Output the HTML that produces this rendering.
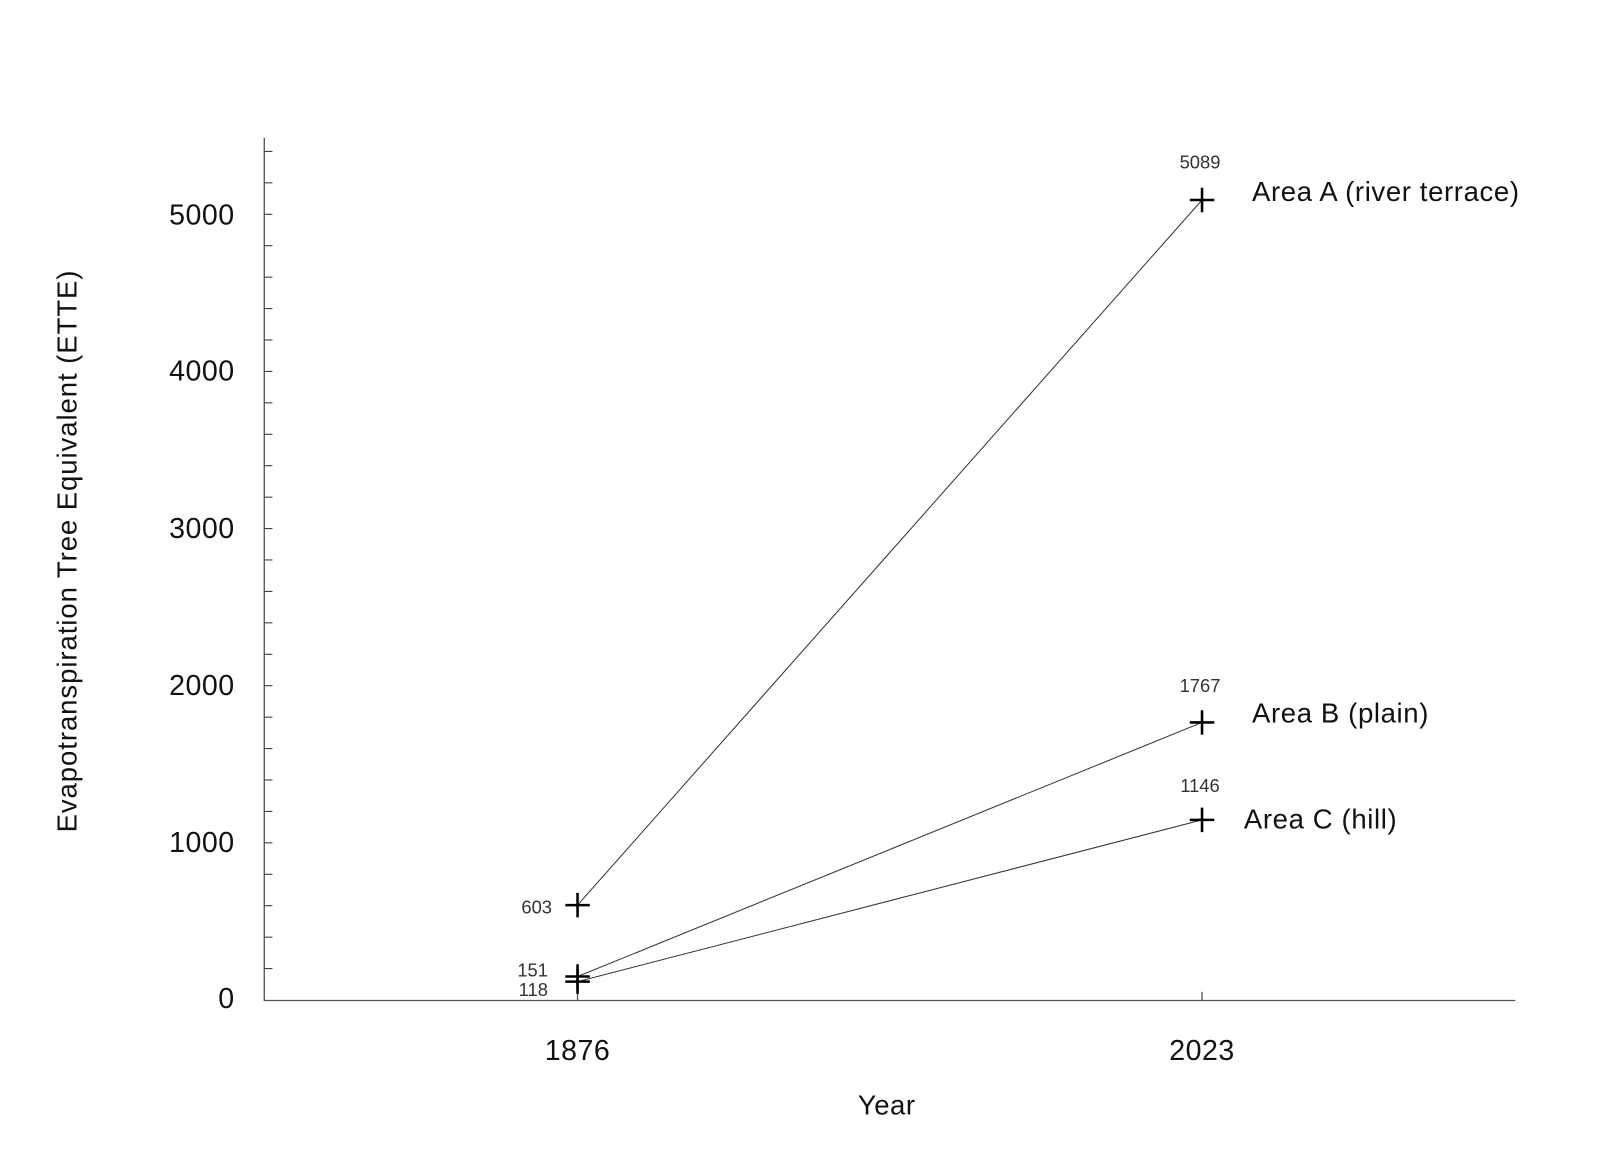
<!DOCTYPE html><html><head><style>body{margin:0;background:#fff}</style></head><body>
<svg width="1600" height="1144" xmlns="http://www.w3.org/2000/svg" font-family="Liberation Sans, sans-serif">
<rect width="1600" height="1144" fill="#fff"/>
<g transform="scale(1.0204)">
<g stroke="#555" stroke-width="1.3">
<line x1="259" y1="135" x2="259" y2="981"/>
<line x1="259" y1="980.5" x2="1485" y2="980.5"/>
<line x1="566" y1="972" x2="566" y2="980"/>
<line x1="1178" y1="972" x2="1178" y2="980"/>
</g>
<g font-size="28" fill="#111" text-anchor="end" letter-spacing="0.5">
<text x="230" y="988">0</text><text x="230" y="835">1000</text><text x="230" y="681">2000</text><text x="230" y="527">3000</text><text x="230" y="373">4000</text><text x="230" y="220">5000</text>
</g>
<g font-size="28" fill="#111" text-anchor="middle" letter-spacing="0.5">
<text x="566" y="1039">1876</text><text x="1178" y="1039">2023</text>
<text x="869" y="1092" font-size="27">Year</text>
<text transform="translate(75,540) rotate(-90)" font-size="27" letter-spacing="0.9">Evapotranspiration Tree Equivalent (ETTE)</text>
</g>
<g stroke="#333" stroke-width="1">
<line x1="566" y1="887" x2="1178" y2="196"/>
<line x1="566" y1="957" x2="1178" y2="708"/>
<line x1="566" y1="962" x2="1178" y2="803.5"/>
</g>
<g stroke="#000" stroke-width="2.5">
<path d="M554 887h24M566 875v24"/>
<path d="M554 957h24M566 945v24"/>
<path d="M554 962h24M566 950v24"/>
<path d="M1166 196h24M1178 184v24"/>
<path d="M1166 708h24M1178 696v24"/>
<path d="M1166 803.5h24M1178 791.5v24"/>
</g>
<g font-size="18" fill="#333">
<text x="541" y="895" text-anchor="end">603</text>
<text x="537" y="957" text-anchor="end">151</text>
<text x="537" y="976" text-anchor="end">118</text>
<text x="1176" y="165" text-anchor="middle">5089</text>
<text x="1176" y="678" text-anchor="middle">1767</text>
<text x="1176" y="776" text-anchor="middle">1146</text>
</g>
<g font-size="27" fill="#111" letter-spacing="0.6">
<text x="1227" y="197">Area A (river terrace)</text>
<text x="1227" y="708">Area B (plain)</text>
<text x="1219" y="812">Area C (hill)</text>
</g>
<g stroke="#444" stroke-width="1.1">
<path d="M259 148.4h8M259 179.2h8M259 210h8M259 240.8h8M259 271.6h8M259 302.4h8M259 333.2h8M259 364h8M259 394.8h8M259 425.6h8M259 456.4h8M259 487.2h8M259 518h8M259 548.8h8M259 579.6h8M259 610.4h8M259 641.2h8M259 672h8M259 702.8h8M259 733.6h8M259 764.4h8M259 795.2h8M259 826h8M259 856.8h8M259 887.6h8M259 918.4h8M259 949.2h8"/>
</g>
</g>
</svg>
</body></html>
